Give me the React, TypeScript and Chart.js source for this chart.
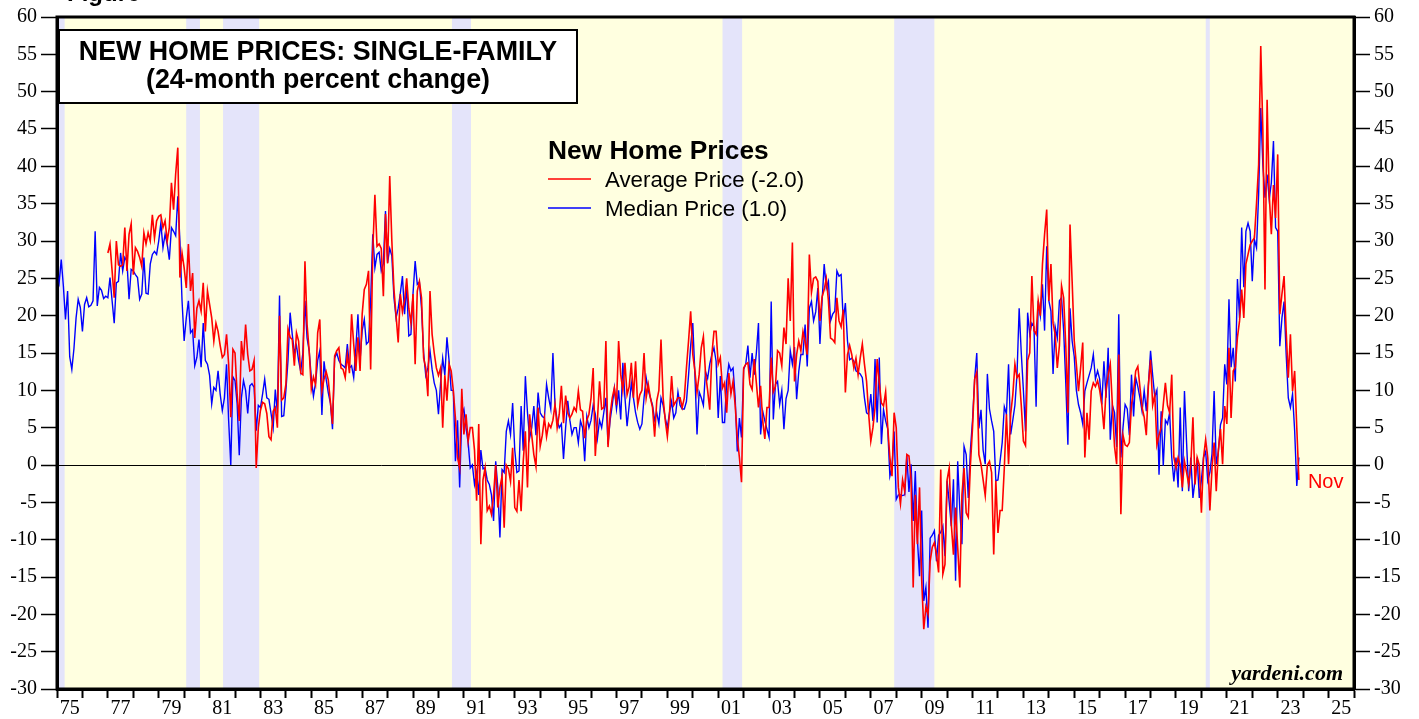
import React, { useEffect, useRef } from 'react';
import { Chart, registerables } from 'chart.js';

Chart.register(...registerables);

// ---------- DATA ----------
const X_MIN = 1975;
const X_MAX = 2026;
const Y_MIN = -30;
const Y_MAX = 60;
const Y_STEP = 5;

// 24-month % change, monthly values
const medianStart = 1975; // Jan 1975
const averageStart = 1977; // Jan 1977

const medianPrice: number[] = [
  25.7, 24.4, 27.5, 24, 19.5, 23.3, 14.5, 12.8, 15.6, 19.7, 22.2, 21.1,
  17.9, 21.5, 22.4, 21.2, 21.4, 22, 31.3, 21.3, 23.8, 23.4, 22.3, 22.6,
  22.4, 25.1, 22, 19, 24.4, 24.6, 28.4, 26, 27.8, 27.3, 22.2, 26.2,
  26, 25.5, 25.1, 22.2, 22.9, 27.8, 23, 22.9, 26.9, 28.2, 28.6, 28.2,
  30, 32.4, 29.1, 30.9, 29.6, 27.5, 31.8, 31.3, 30.7, 36, 30, 22,
  16.6, 19.7, 22, 17.7, 18.1, 13.3, 14.4, 16.8, 13.1, 19, 14, 13.5,
  12, 8.2, 10.4, 10, 12.6, 9.5, 7.3, 9, 13.5, 5.9, 0, 11.8,
  11.3, 8.2, 1.3, 9, 11.3, 10, 6.9, 10.6, 10.9, 10.4, 4.6, 8,
  7.7, 9.5, 11.5, 9, 8.8, 6.9, 5, 10.1, 7, 22.7, 6.5, 6.6,
  10, 14, 20.4, 17.5, 15, 16, 14, 12.5, 15, 22, 17, 15.3,
  11.7, 9.2, 11, 14, 15.3, 6.7, 13.9, 11.5, 9.7, 8.3, 4.8, 14.3,
  15, 14, 13.5, 13.3, 13, 16.2, 13, 13.3, 11.7, 15.6, 20.2, 14,
  18, 19.5, 16.2, 16.5, 22, 30.9, 26.4, 28.2, 28.5, 26, 27, 34,
  27.1, 29, 28, 22.4, 19.7, 21, 23, 25.3, 20.2, 24, 17.3, 17.5,
  23, 27.3, 24.2, 24.5, 21, 15, 12, 13, 15.3, 12.8, 11, 10,
  6.8, 11, 14.3, 12, 17.1, 14, 10, 10, 0.5, 6, -3, 6.7,
  7.5, 5, 3, -0.4, 0, -2.6, -1, -4, 2, -0.5, -0.4, -2,
  -2.6, -4, -7.5, 0.5, -3, -9.7, -0.6, -1, 4.5, 5.9, 4.1, 8.3,
  2, -1, -0.8, 7.9, 1.9, 11.9, 7, 3.6, 5, 7.9, 4, 9.7,
  7, 6.5, 6.3, 10.8, 9, 7.5, 15, 8, 6, 5, 5.5, 0.8,
  5, 8.6, 6, 4.1, 5, 5, 3, 5.9, 5, 0.5, 6.5, 5,
  6, 8, 6.8, 3.6, 6, 5, 7, 9, 2.8, 6, 8, 10.3,
  7.5, 10, 6.1, 13.7, 9, 5.2, 8, 11, 9, 7, 5.7, 4.8,
  5.5, 9, 11.7, 10, 9, 8, 6, 7, 5.5, 9, 8, 6.3,
  5, 7, 8.5, 6.3, 7, 9.8, 8, 7.5, 7.5, 8.5, 12, 16,
  19, 12.1, 4.1, 9.8, 9, 8, 12.5, 11.6, 13.5, 14.8, 15.7, 13.9,
  6.3, 11.9, 5.7, 5.7, 11.2, 13.5, 12.6, 13, 9, 1.8, 6.3, 3.7,
  12.8, 13.5, 16, 11.7, 15, 12.1, 15, 19, 4.1, 7.2, 5.9, 4.8,
  3.7, 21.9, 6.1, 10.8, 11.2, 8.1, 10, 4.8, 8.9, 10, 15.3, 13.5,
  15.8, 8.8, 12.5, 14.8, 14.8, 18.8, 13.2, 21, 21.9, 19.3, 20.5, 23.7,
  16.2, 21.9, 26.9, 23.7, 24.6, 19.3, 20.2, 20.6, 26, 25.3, 25.5, 19.3,
  21.7, 16.6, 14.1, 14.3, 13.9, 12.6, 12.4, 12.2, 11.7, 9, 7, 6.8,
  9.5, 5.9, 14.2, 5.7, 14.4, 2.8, 7.4, 5.9, 4.8, -1.5, -0.3, 4.5,
  -4.6, -4, -4, -4.1, -4, 1.2, -3.6, 0.1, -7.5, -0.8, -10, -14.9,
  -6.1, -18.2, -16.4, -21.8, -9.8, -9.4, -8.8, -12.9, -9.4, -9, -8.2, -12.2,
  -2.1, -5, -8.2, -1.9, -15.5, 0.5, -6, -10.6, 2.5, 1.4, -4.4, 2,
  6, 11.5, 15, 4.9, 7.4, 2, 0.1, 12.2, 7.5, 5.9, 4.5, -2.1,
  -2, 0.5, 3, 7.8, 6.8, 13.5, 4.1, 6, 8, 12.2, 21, 15,
  10, 4.5, 20.4, 17.5, 19, 18.5, 7.8, 22, 20, 24.2, 18, 29.3,
  22, 20.6, 12.2, 18.5, 17, 22, 22.4, 18, 11, 2.7, 21, 16.6,
  14.5, 10, 8.1, 7, 5.5, 9.9, 11, 12, 13, 14.8, 11.5, 12.6,
  11.5, 8.1, 13.9, 9, 15.7, 3.4, 8, 7, 2.4, 20.2, 1, 5,
  8.1, 7.5, 4, 12.1, 6.5, 11.7, 10.5, 9, 7.2, 10, 7.2, 10.8,
  15.3, 12, 9.1, 10, -1.3, 7.2, -0.1, 6, 5.5, 7, 1, -2.2,
  1, -3, 7.7, -3.5, 9.9, 3, -3.5, 1, -4.4, -2, 1, -4.4,
  -2, 1, 1.8, -2.1, -1, 1.5, 9.9, 0.1, 1.8, 5.4, 6.3, 13.5,
  10.8, 22.2, 13.1, 15.7, 11.2, 24.9, 19.7, 31.8, 23.8, 31.3, 32.4, 31.3,
  24.6, 30.2, 29.1, 36.2, 47.8, 40.2, 35.8, 38.9, 35.6, 37.8, 43.4, 31.8,
  31.3, 15.9, 19.7, 21.9, 14.8, 9, 7.7, 9.5, 4.6, -2.8, 1.0,
];

const averagePrice: number[] = [
  28.4, 29.6, 26, 22.4, 30, 26.8, 26.6, 26.8, 31.8, 26, 30.9, 32.3,
  25.5, 29.1, 28.6, 27.8, 26.6, 31.1, 29.6, 31.1, 30, 33.5, 30.4, 32.7,
  33.3, 33.5, 31.8, 32.7, 30, 31.8, 37.8, 34.2, 39, 42.5, 25.1, 28.4,
  26.4, 23.7, 29.6, 23.3, 25.7, 17, 21, 22, 20.6, 24.4, 17.9, 23.3,
  21.5, 19.7, 16.6, 19, 17.9, 16, 14.4, 14.8, 17.5, 13.5, 6.4, 15.5,
  15, 9.5, 5.9, 16.6, 14, 18.8, 14.8, 12.6, 12.8, 14, -0.4, 5,
  7.3, 8.4, 8.2, 6.9, 3.8, 3.4, 7.2, 7.7, 5, 20, 8.7, 9,
  10.8, 18.2, 17.1, 16.8, 13.3, 17.7, 16.6, 12.3, 12.1, 27.3, 18.8, 15.3,
  10.2, 11.8, 10.8, 17.7, 19.5, 9.9, 11.5, 12.5, 11.4, 8.5, 5.5, 14.6,
  15.3, 15.7, 13, 12.8, 11.7, 14.8, 12.3, 20.2, 16.2, 12.6, 17.1, 12.6,
  20.2, 23.5, 24.2, 26, 12.8, 28.7, 36.2, 29.3, 29.6, 29, 22.6, 33.6,
  27, 38.7, 30, 23.5, 20, 16.4, 22.9, 20.5, 22, 25, 21, 19,
  22.9, 13.5, 23.3, 24.6, 22.4, 14.3, 13, 9.2, 23.3, 17.5, 15, 13,
  12, 13, 5, 12, 8.6, 13.5, 12.6, 10, 6.3, 1, -0.4, 10.2,
  4.1, 6.8, 3.2, 5, 5, 2, -4.8, 5.5, -10.6, -2, -0.4, -6.1,
  -5.5, -6.6, -4, 0, -5.7, -3, -1.5, -8.4, 0, -0.5, -2.2, 2.3,
  -5.7, -6.2, -2, -6.2, 0.5, 4.5, -3, 6.8, 4, 1.4, -0.2, 7.7,
  2.5, 4, 6.3, 3.8, 5.5, 5, 6, 8.1, 5, 6.8, 10.6, 5.6,
  9.3, 7, 6.3, 6.8, 7.7, 7.2, 9.9, 7.4, 7.2, 3.6, 6, 6.8,
  9, 13, 1.2, 6, 11.2, 7.5, 7.7, 16.6, 2.4, 6.8, 9, 10.3,
  8, 16.6, 12.1, 10, 13.7, 9.4, 10.5, 13.7, 9, 13.9, 8, 9.4,
  10, 15, 9, 10.8, 9, 7.7, 3.8, 8.6, 10, 16.8, 9, 6,
  3.8, 6.8, 11.9, 8, 8.5, 9, 9, 7.7, 9, 13, 16.6, 20.6,
  14.8, 12.6, 9.7, 12.1, 15.7, 17.2, 12.3, 10, 7.4, 14.8, 17.9, 17.9,
  13.5, 14.4, 10.3, 11, 7, 12.3, 9.5, 11.2, 8, 3.7, 1, -2.3,
  13, 13.5, 13.7, 10.8, 10.1, 14.2, 11, 7.7, 10.6, 5.9, 3.5, 7.7,
  7.7, 14.4, 9.8, 10.5, 15.3, 15, 13.3, 18.4, 16.2, 25, 19.3, 29.8,
  11.2, 14.8, 16.6, 15.3, 17.9, 16.5, 14.8, 28.2, 23.1, 25, 25.2, 24.6,
  19.3, 22.5, 23.5, 25, 22, 17, 16.8, 16.4, 22.4, 19.3, 18.5, 20.8,
  9.7, 14.8, 16, 14.8, 13, 14.3, 12.1, 14.3, 16.2, 13.5, 11.2, 6.8,
  3.2, 5, 7.7, 14.2, 11, 8.3, 7.9, 9.8, 5, 1, -1.5, 7,
  5, -3, -5.2, -2, -3.5, 1.4, 1.2, -1.9, -16.4, -4, -10.6, -3,
  -15.3, -22, -19, -20, -12.9, -11, -10.4, -12, -14.4, -0.6, -14.6, -13.3,
  -2, -0.4, -8, -12, -5.7, -11, -16.4, -4, -0.4, -6.4, -7, 0,
  5, 11.5, 12.4, 1.4, 0.1, -2, -4.1, 0, 0.5, -1, -12, -2.1,
  -9.1, -6.1, -6.1, -0.4, 6.8, 0.1, 6.8, 9.4, 13.5, 11.7, 12.1, 8,
  3.2, 2.6, 14, 15, 25.3, 18, 17.5, 22, 20, 26.9, 30.9, 34.2,
  22, 26.9, 19, 17.5, 13, 16, 24, 22.4, 16, 7, 32.2, 24.6,
  16.6, 13.5, 9.9, 13, 16.4, 1, 7, 3.4, 9.9, 11, 10.5, 11.3,
  10, 8.1, 4.8, 10, 12, 13.5, 8, 2.5, 0.1, 14.8, -6.6, 4,
  2.7, 2.5, 3, 8.1, 9.9, 12.6, 13.2, 10.4, 7.7, 6.4, 4, 10.8,
  14.1, 8, 9.4, 2.7, 4, 5, 8.1, 11, 8, 7, 12.1, 1,
  -0.4, 1, 0, -3, 0.5, -1, -2.6, 0, 6.4, -2.6, 1, 0,
  -6.4, 1, 3.4, 1, -6.1, -0.4, 3, -3.5, 2, 4.8, 0.1, 7.9,
  5.5, 15.7, 6.3, 12.6, 13.1, 17.1, 19.3, 23.5, 19.7, 26.9, 28.2, 29.5,
  30, 30.4, 35, 40.2, 56.1, 44.7, 23.5, 48.9, 36.2, 30.9, 37.5, 33.1,
  41.6, 20.2, 22.9, 25.3, 17.9, 11.7, 17.5, 9.9, 12.6, 5, -2.0,
];

// recession periods (decimal years)
const recessionStarts = [1973.9, 1980.08, 1981.53, 1990.53, 2001.17, 2007.92, 2020.17];
const recessionEnds = [1975.3, 1980.62, 1982.95, 1991.28, 2001.94, 2009.5, 2020.33];

const titleLines = ['NEW HOME PRICES: SINGLE-FAMILY', '(24-month percent change)'];
const legendTitle = 'New Home Prices';
const seriesLabels = ['Average Price (-2.0)', 'Median Price (1.0)'];
const seriesColors = ['#ff0000', '#0000ff'];
const lastLabel = 'Nov';
const sourceLabel = 'yardeni.com';
const figureLabel = 'Figure';

// ---------- STYLE ----------
const SANS = '"Liberation Sans", Arial, Helvetica, sans-serif';
const SERIF = '"Liberation Serif", "Times New Roman", serif';
const BG = '#ffffe0';
const REC = '#e4e4fa';

const toPoints = (start: number, vals: number[]) =>
  vals.map((v, i) => ({ x: start + i / 12, y: v }));

const decorPlugin = {
  id: 'decor',
  beforeDraw(chart: any) {
    const { ctx, chartArea: a, scales } = chart;
    const x = scales.x;
    ctx.save();
    ctx.fillStyle = BG;
    ctx.fillRect(a.left, a.top, a.right - a.left, a.bottom - a.top);
    ctx.fillStyle = REC;
    for (let i = 0; i < recessionStarts.length; i++) {
      const x0 = Math.max(a.left, x.getPixelForValue(recessionStarts[i]));
      const x1 = Math.min(a.right, x.getPixelForValue(recessionEnds[i]));
      if (x1 > x0) ctx.fillRect(x0, a.top, x1 - x0, a.bottom - a.top);
    }
    ctx.restore();
  },
  beforeDatasetsDraw(chart: any) {
    const { ctx, chartArea: a, scales } = chart;
    const y0 = Math.round(scales.y.getPixelForValue(0)) + 0.5;
    ctx.save();
    ctx.strokeStyle = '#000';
    ctx.lineWidth = 1;
    ctx.beginPath();
    ctx.moveTo(a.left, y0);
    ctx.lineTo(a.right, y0);
    ctx.stroke();
    ctx.restore();
  },
  afterDraw(chart: any) {
    const { ctx, chartArea: a, scales } = chart;
    ctx.save();
    // frame
    ctx.strokeStyle = '#000';
    ctx.lineWidth = 3;
    ctx.strokeRect(a.left, a.top, a.right - a.left, a.bottom - a.top);

    // figure label (cut off at the top)
    ctx.fillStyle = '#000';
    ctx.font = `bold 24px ${SANS}`;
    ctx.textAlign = 'left';
    ctx.textBaseline = 'alphabetic';
    ctx.fillText(figureLabel, a.left + 10, 1);

    // title box
    const bx = a.left + 2, by = a.top + 13, bw = 518, bh = 73;
    ctx.fillStyle = '#fff';
    ctx.fillRect(bx, by, bw, bh);
    ctx.lineWidth = 2;
    ctx.strokeRect(bx, by, bw, bh);
    ctx.fillStyle = '#000';
    ctx.font = `bold 26.8px ${SANS}`;
    ctx.textAlign = 'center';
    ctx.fillText(titleLines[0], bx + bw / 2, by + 30);
    ctx.fillText(titleLines[1], bx + bw / 2, by + 58);

    // legend
    const lx = a.left + 491;
    ctx.textAlign = 'left';
    ctx.font = `bold 26.3px ${SANS}`;
    ctx.fillText(legendTitle, lx, a.top + 142);
    ctx.font = `22.3px ${SANS}`;
    for (let i = 0; i < seriesLabels.length; i++) {
      const ly = a.top + 162 + i * 29;
      ctx.strokeStyle = seriesColors[i];
      ctx.lineWidth = 1.5;
      ctx.beginPath();
      ctx.moveTo(lx, ly);
      ctx.lineTo(lx + 43, ly);
      ctx.stroke();
      ctx.fillStyle = '#000';
      ctx.fillText(seriesLabels[i], lx + 57, ly + 8);
    }

    // last value label
    const lastX = averageStart + (averagePrice.length - 1) / 12;
    const px = scales.x.getPixelForValue(lastX);
    const py = scales.y.getPixelForValue(averagePrice[averagePrice.length - 1]);
    ctx.fillStyle = '#ff0000';
    ctx.font = `20px ${SANS}`;
    ctx.fillText(lastLabel, px + 9, py + 8);

    // source
    ctx.fillStyle = '#000';
    ctx.font = `italic bold 22px ${SERIF}`;
    ctx.textAlign = 'right';
    ctx.fillText(sourceLabel, a.right - 11, a.bottom - 9);
    ctx.restore();
  },
};

export default function App() {
  const ref = useRef<HTMLCanvasElement>(null);
  useEffect(() => {
    document.body.style.margin = '0';
    const canvas = ref.current;
    if (!canvas) return;
    const yearPx = (1354 - 57) / (X_MAX - X_MIN);
    const yTicks = {
      stepSize: Y_STEP,
      color: '#000',
      padding: 4,
      font: { family: SERIF, size: 20 },
      callback: (v: any) => String(v),
    };
    const yGrid = {
      drawOnChartArea: false,
      drawTicks: true,
      tickLength: 16,
      tickWidth: 1.5,
      tickColor: '#000',
    };
    const chart = new Chart(canvas, {
      type: 'line',
      data: {
        datasets: [
          {
            label: seriesLabels[0],
            data: toPoints(averageStart, averagePrice),
            borderColor: seriesColors[0],
            borderWidth: 1.6,
            pointRadius: 0,
            tension: 0,
            fill: false,
          },
          {
            label: seriesLabels[1],
            data: toPoints(medianStart, medianPrice),
            borderColor: seriesColors[1],
            borderWidth: 1.4,
            pointRadius: 0,
            tension: 0,
            fill: false,
          },
        ],
      },
      options: {
        animation: false,
        responsive: false,
        parsing: false as any,
        layout: { padding: { top: 17, left: 0, right: 0, bottom: 0 } },
        plugins: { legend: { display: false }, tooltip: { enabled: false } },
        scales: {
          x: {
            type: 'linear',
            min: X_MIN,
            max: X_MAX,
            ticks: {
              stepSize: 1,
              autoSkip: false,
              maxRotation: 0,
              minRotation: 0,
              labelOffset: yearPx / 2,
              padding: -1,
              color: '#000',
              font: { family: SERIF, size: 20 },
              callback: (v: any) => {
                const yr = Math.round(Number(v));
                return yr % 2 === 1 ? String(yr % 100).padStart(2, '0') : '';
              },
            },
            grid: {
              drawOnChartArea: false,
              drawTicks: true,
              tickLength: 9,
              tickWidth: 2,
              tickColor: '#000',
            },
            border: { display: true, color: '#000', width: 3 },
            afterFit: (s: any) => {
              s.height = 30;
            },
          },
          y: {
            type: 'linear',
            position: 'left',
            min: Y_MIN,
            max: Y_MAX,
            ticks: yTicks,
            grid: yGrid,
            border: { display: true, color: '#000', width: 3 },
            afterFit: (s: any) => {
              s.width = 57;
            },
          },
          y2: {
            type: 'linear',
            position: 'right',
            min: Y_MIN,
            max: Y_MAX,
            ticks: yTicks,
            grid: yGrid,
            border: { display: true, color: '#000', width: 3 },
            afterFit: (s: any) => {
              s.width = 65;
            },
          },
        },
      } as any,
      plugins: [decorPlugin],
    });
    return () => chart.destroy();
  }, []);
  return (
    <div style={{ position: 'relative', width: 1419, height: 719 }}>
      <canvas ref={ref} width={1419} height={719} style={{ display: 'block' }} />
    </div>
  );
}
